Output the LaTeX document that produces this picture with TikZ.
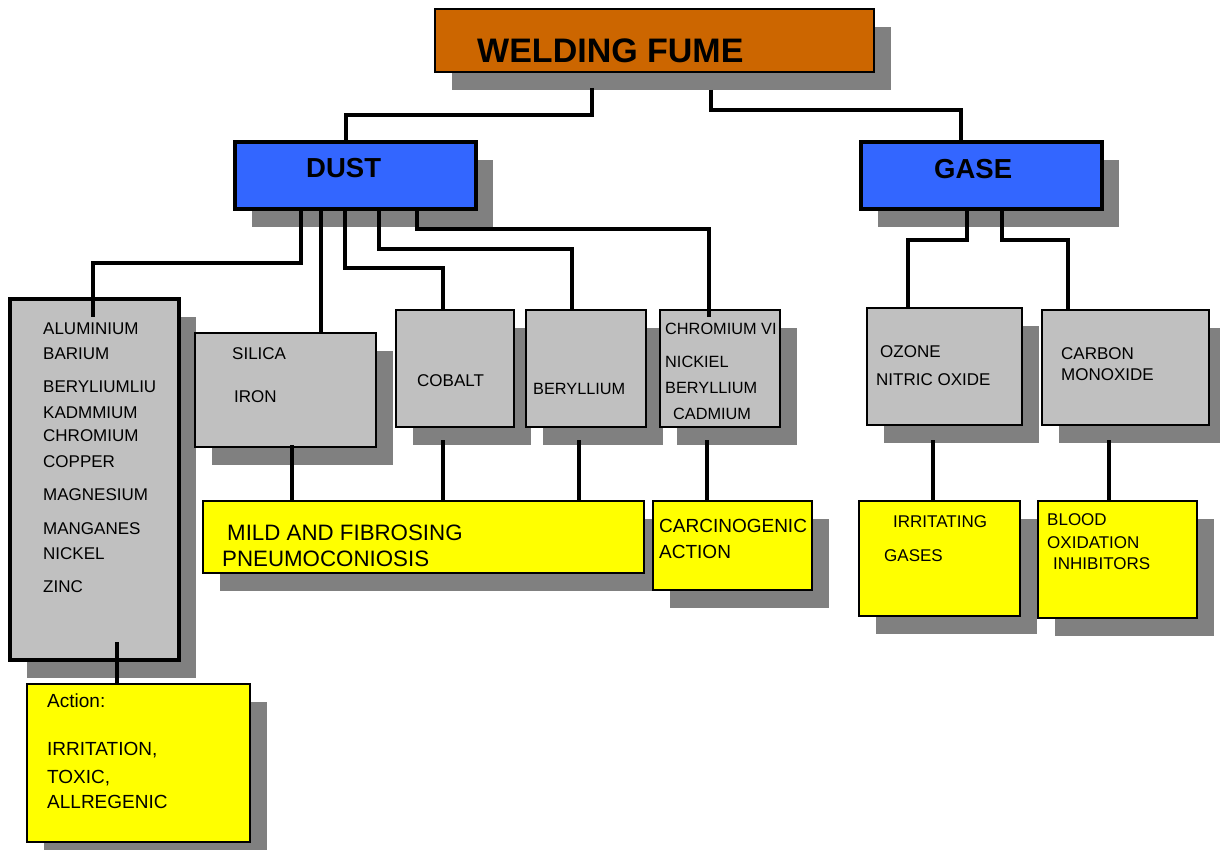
\documentclass[tikz,border=0pt]{standalone}
\usepackage{fontspec}
\setmainfont{Liberation Sans}
\usetikzlibrary{shadows}
\definecolor{fumeor}{HTML}{CC6600}
\definecolor{bluebox}{HTML}{3366FF}
\definecolor{graybox}{HTML}{C0C0C0}
\definecolor{shadowgray}{HTML}{808080}
\definecolor{yellowbox}{HTML}{FFFF00}
\newcommand{\myfs}[1]{\fontsize{#1}{#1}\selectfont}
\tikzset{
  box/.style={draw=black, line width=1.8pt, inner sep=0pt, outer sep=0pt,
    anchor=north west,
    drop shadow={shadow xshift=17pt, shadow yshift=-18pt, opacity=1,
      fill=shadowgray, draw=none}},
  thickbox/.style={box, line width=3.8pt},
  graynode/.style={box, fill=graybox},
  yelnode/.style={box, fill=yellowbox},
  gt/.style={anchor=base west, inner sep=0pt, font={\myfs{17}}},
  gts/.style={anchor=base west, inner sep=0pt, font={\myfs{16.3}}},
  yt/.style={anchor=base west, inner sep=0pt, font={\myfs{17}}},
  at19/.style={anchor=base west, inner sep=0pt, font={\myfs{19}}},
  at22/.style={anchor=base west, inner sep=0pt, font={\myfs{22.3}}},
  headt/.style={anchor=base west, inner sep=0pt, font={\bfseries\myfs{27.5}}},
  conn/.style={line width=3.2pt, line join=miter, draw=black}
}
\begin{document}
\begin{tikzpicture}[x=1pt, y=-1pt]
\useasboundingbox (0,0) rectangle (1220,850);
\fill[white] (0,0) rectangle (1220,850);

% boxes
\node[box, fill=fumeor, minimum width=439pt, minimum height=63pt] (fume) at (435,9) {};
\node[thickbox, fill=bluebox, minimum width=241pt, minimum height=67pt] (dust) at (235,142) {};
\node[thickbox, fill=bluebox, minimum width=241pt, minimum height=67pt] (gase) at (861,142) {};
\node[thickbox, fill=graybox, minimum width=169pt, minimum height=361pt] (metals) at (10,299) {};
\node[graynode, minimum width=181pt, minimum height=114pt] (silica) at (195,333) {};
\node[graynode, minimum width=118pt, minimum height=117pt] (cobalt) at (396,310) {};
\node[graynode, minimum width=120pt, minimum height=117pt] (beryl) at (526,310) {};
\node[graynode, minimum width=120pt, minimum height=117pt] (chrom) at (660,310) {};
\node[graynode, minimum width=155pt, minimum height=117pt] (ozone) at (867,308) {};
\node[graynode, minimum width=167pt, minimum height=115pt] (carbon) at (1042,310) {};
\node[yelnode, minimum width=441pt, minimum height=72pt] (mild) at (203,501) {};
\node[yelnode, minimum width=159pt, minimum height=89pt] (carc) at (653,501) {};
\node[yelnode, minimum width=161pt, minimum height=115pt] (irrit) at (859,501) {};
\node[yelnode, minimum width=159pt, minimum height=117pt] (blood) at (1038,501) {};
\node[yelnode, minimum width=223pt, minimum height=158pt] (action) at (27,684) {};

% texts
\node[anchor=base west, inner sep=0pt, font={\bfseries\myfs{34}}] (tfume) at (477,62.5) {WELDING FUME};
\node[headt] (tdust) at (306,178) {DUST};
\node[headt] (tgase) at (934,179) {GASE};

\node[gt] (m1) at (43,334) {ALUMINIUM};
\node[gt] (m2) at (43,359) {BARIUM};
\node[gt] (m3) at (43,392) {BERYLIUMLIU};
\node[gt] (m4) at (43,418) {KADMMIUM};
\node[gt] (m5) at (43,441) {CHROMIUM};
\node[gt] (m6) at (43,467) {COPPER};
\node[gt] (m7) at (43,500) {MAGNESIUM};
\node[gt] (m8) at (43,534) {MANGANES};
\node[gt] (m9) at (43,559) {NICKEL};
\node[gt] (m10) at (43,592) {ZINC};

\node[gt] (s1t) at (232,359) {SILICA};
\node[gt] (s2t) at (234,402) {IRON};
\node[gt] (cot) at (417,386) {COBALT};
\node[gts] (bet) at (533,394) {BERYLLIUM};
\node[gts] (c1t) at (665,334) {CHROMIUM VI};
\node[gts] (c2t) at (665,367.5) {NICKIEL};
\node[gts] (c3t) at (665,393.5) {BERYLLIUM};
\node[gts] (c4t) at (673,419) {CADMIUM};
\node[gt] (o1t) at (880,357.5) {OZONE};
\node[gt] (o2t) at (876,385) {NITRIC OXIDE};
\node[gt] (k1t) at (1061,359) {CARBON};
\node[gt] (k2t) at (1061,380) {MONOXIDE};

\node[yt] (i1t) at (893,527) {IRRITATING};
\node[yt] (i2t) at (884,561) {GASES};
\node[yt] (b1t) at (1047,525) {BLOOD};
\node[yt] (b2t) at (1047,548) {OXIDATION};
\node[yt] (b3t) at (1053,569) {INHIBITORS};

\node[at19] (a1t) at (47,707) {Action:};
\node[at19] (a2t) at (47,755) {IRRITATION,};
\node[at19] (a3t) at (47,783) {TOXIC,};
\node[at19] (a4t) at (47,808) {ALLREGENIC};

\node[at22] (p1t) at (227,540) {MILD AND FIBROSING};
\node[at22] (p2t) at (222,566) {PNEUMOCONIOSIS};

\node[anchor=base west, inner sep=0pt, font={\myfs{19}}] (ca1t) at (659,532) {CARCINOGENIC};
\node[anchor=base west, inner sep=0pt, font={\myfs{19}}] (ca2t) at (659,558) {ACTION};

% connectors
\draw[conn] ([xshift=157pt,yshift=-16pt]fume.south west) -- ++(0,27) -| ([xshift=111pt]dust.north west);
\draw[conn] ([xshift=276pt,yshift=-18pt]fume.south west) -- ++(0,20) -| ([xshift=100pt]gase.north west);

\draw[conn] ([xshift=66pt]dust.south west) -- ++(0,54) -| ([xshift=83pt,yshift=-18pt]metals.north west);
\draw[conn] ([xshift=86pt]dust.south west) coordinate (d2) -- (d2 |- silica.north);
\draw[conn] ([xshift=110pt]dust.south west) -- ++(0,59) -| ([xshift=47pt]cobalt.north west);
\draw[conn] ([xshift=144pt]dust.south west) -- ++(0,40) -| ([xshift=46pt]beryl.north west);
\draw[conn] ([xshift=182pt]dust.south west) -- ++(0,20) -| ([xshift=49pt,yshift=-7pt]chrom.north west);

\draw[conn] ([xshift=106pt]gase.south west) -- ++(0,31) -| ([xshift=41pt]ozone.north west);
\draw[conn] ([xshift=141pt]gase.south west) -- ++(0,31) -| ([xshift=26pt]carbon.north west);

\draw[conn] ([xshift=97pt,yshift=2pt]silica.south west) coordinate (sl) -- (sl |- mild.north);
\draw[conn] ([xshift=47pt,yshift=-13pt]cobalt.south west) coordinate (cl) -- (cl |- mild.north);
\draw[conn] ([xshift=53pt,yshift=-13pt]beryl.south west) coordinate (bl) -- (bl |- mild.north);
\draw[conn] ([xshift=47pt,yshift=-13pt]chrom.south west) coordinate (hl) -- (hl |- carc.north);
\draw[conn] ([xshift=66pt,yshift=-15pt]ozone.south west) coordinate (ol) -- (ol |- irrit.north);
\draw[conn] ([xshift=67pt,yshift=-15pt]carbon.south west) coordinate (kl) -- (kl |- blood.north);
\draw[conn] ([xshift=107pt,yshift=18pt]metals.south west) coordinate (ml) -- (ml |- action.north);
\end{tikzpicture}
\end{document}
